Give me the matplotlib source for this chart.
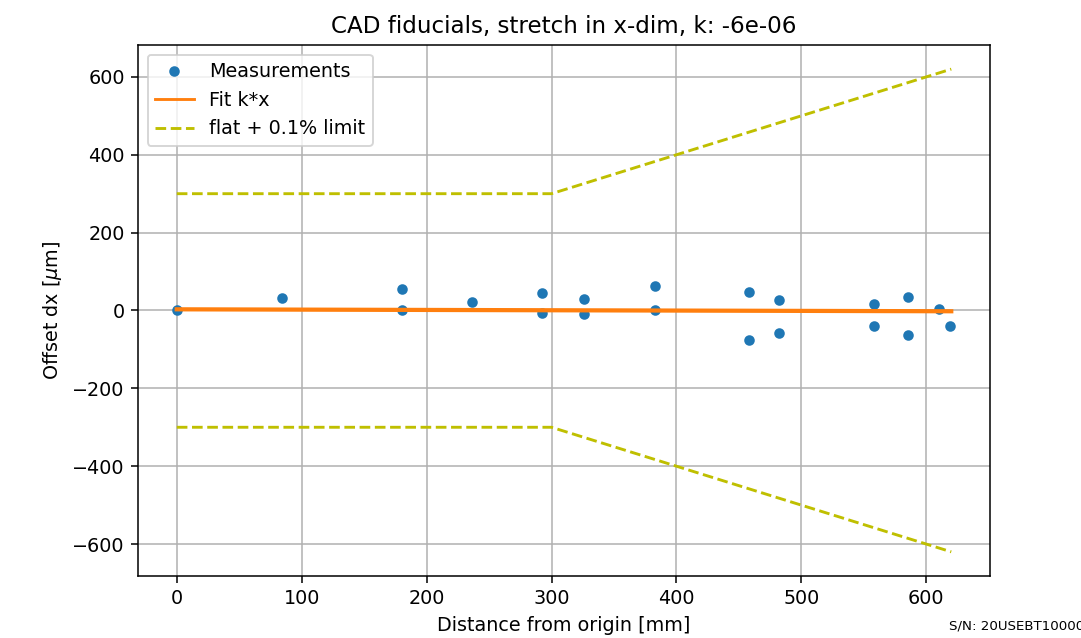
import matplotlib
matplotlib.use("Agg")
import matplotlib.pyplot as plt
import numpy as np

# measured fiducial offsets (distance in mm, offset in um)
dist = [0, 84.6, 180, 180, 236, 292, 292, 326, 326, 383, 383,
        458, 458, 482, 482, 558, 558, 585, 585, 610, 619]
dx = [0, 31, 56, 1, 23, 45, -6, 30, -9, 62, 1,
      48, -75, 27, -57, 16, -40, 34, -64, 3, -40]

fit_x = [0, 620]
fit_y = [3, -2]

lim_x = [0, 300, 620]
lim_y = [300, 300, 620]

dpi = 138
fig = plt.figure(figsize=(1081 / dpi, 638 / dpi), dpi=dpi)
ax = fig.add_axes([0.1277, 0.0972, 0.7881, 0.8323])

ax.plot(dist, dx, 'o', ms=4.5, color='tab:blue', label='Measurements')
ax.plot(fit_x, fit_y, '-', lw=2.2, color='tab:orange', label='Fit k*x')
ax.plot(lim_x, lim_y, '--', color='y', label='flat + 0.1% limit')
ax.plot(lim_x, [-v for v in lim_y], '--', color='y')

ax.set_title('CAD fiducials, stretch in x-dim, k: -6e-06')
ax.set_xlabel('Distance from origin [mm]')
ax.set_ylabel(r'Offset dx [$\mu$m]')
ax.grid(True)
leg = ax.legend(loc='upper left')
leg.get_lines()[1].set_linewidth(1.5)

fig.text(0.878, 0.013, 'S/N: 20USEBT100000', fontsize=7)

fig.savefig('out.png', dpi=dpi)
